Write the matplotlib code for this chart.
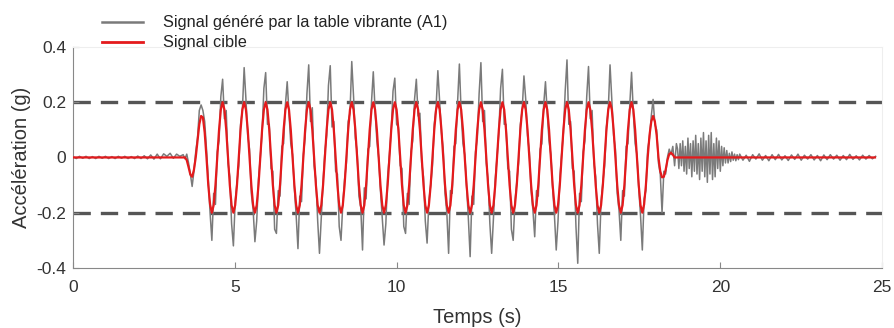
import numpy as np
import matplotlib.pyplot as plt
from matplotlib.lines import Line2D

plt.rcParams['font.family'] = ['Liberation Sans', 'DejaVu Sans']

# sampling grids (s)
osc_t0, osc_dt = 3.403, 0.05542
burst_t0, burst_dt = 18.68, 0.04
tail_t0, quiet_dt = 20.6, 0.1
t_end = 24.78

# quiet part before the test (0 - 3.3 s)
pre_gray = [0.003, -0.004, 0.004, -0.003, 0.004, -0.004, 0.003, -0.004, 0.004, -0.003,
            0.004, -0.004, 0.003, -0.004, 0.004, -0.003, 0.004, -0.004, 0.003, -0.004,
            0.005, -0.004, 0.006, -0.005, 0.009, -0.006, 0.012, -0.005, 0.013, 0.004,
            0.015, -0.003, 0.012, 0.004]

# target signal (g)
red_start = [0, 0, -0.01, -0.035, -0.062, -0.07, -0.045, 0.0, 0.06, 0.12, 0.15, 0.145,
             0.09, 0.0, -0.1, -0.17]
red_cycle = [-0.2, -0.173, -0.1, 0, 0.1, 0.173, 0.2, 0.173, 0.1, 0, -0.1, -0.173]
red_end = [-0.2, -0.17, -0.1, 0.0, 0.08, 0.13, 0.15, 0.13, 0.08, 0.0, -0.05, -0.072, -0.07,
           -0.045, -0.01, 0.012, 0.017, 0.01, 0.0, 0.0]

# shaking table signal (g), same grid as the target
gray_osc = [
    0.01, -0.005, 0.012, -0.02, -0.06, -0.105, -0.05, 0.02, 0.07, 0.17, 0.19, 0.17, 0.13, 0.03, -0.08, -0.2,
    -0.30, -0.13, -0.17, 0.02, 0.06, 0.22, 0.283, 0.14, 0.17, -0.02, -0.07, -0.24,
    -0.32, -0.16, -0.09, -0.03, 0.12, 0.17, 0.325, 0.21, 0.08, 0.03, -0.13, -0.19,
    -0.305, -0.23, -0.08, 0.00, 0.09, 0.25, 0.307, 0.12, 0.12, -0.04, -0.05, -0.26,
    -0.275, -0.12, -0.14, 0.04, 0.05, 0.19, 0.274, 0.16, 0.05, 0.01, -0.11, -0.21,
    -0.33, -0.14, -0.16, 0.01, 0.07, 0.23, 0.335, 0.13, 0.18, -0.03, -0.08, -0.23,
    -0.347, -0.22, -0.09, 0.02, 0.08, 0.26, 0.332, 0.11, 0.13, -0.05, -0.06, -0.25,
    -0.30, -0.17, -0.08, -0.02, 0.13, 0.16, 0.347, 0.22, 0.07, 0.02, -0.14, -0.18,
    -0.335, -0.11, -0.15, 0.03, 0.04, 0.2, 0.31, 0.17, 0.06, 0.0, -0.12, -0.22,
    -0.317, -0.24, -0.07, 0.01, 0.1, 0.24, 0.287, 0.12, 0.11, -0.03, -0.04, -0.25,
    -0.275, -0.13, -0.17, 0.02, 0.06, 0.21, 0.283, 0.15, 0.16, -0.02, -0.07, -0.23,
    -0.31, -0.16, -0.1, -0.03, 0.12, 0.18, 0.314, 0.2, 0.09, 0.03, -0.13, -0.2,
    -0.347, -0.12, -0.13, 0.04, 0.05, 0.2, 0.338, 0.16, 0.05, 0.01, -0.1, -0.22,
    -0.359, -0.14, -0.17, 0.02, 0.07, 0.23, 0.343, 0.13, 0.17, -0.02, -0.08, -0.24,
    -0.347, -0.22, -0.08, 0.0, 0.09, 0.25, 0.319, 0.12, 0.12, -0.04, -0.05, -0.26,
    -0.30, -0.16, -0.09, -0.02, 0.12, 0.17, 0.295, 0.21, 0.08, 0.02, -0.12, -0.19,
    -0.287, -0.12, -0.14, 0.03, 0.05, 0.19, 0.274, 0.16, 0.06, 0.01, -0.11, -0.21,
    -0.335, -0.23, -0.08, 0.01, 0.09, 0.24, 0.353, 0.12, 0.13, -0.04, -0.05, -0.25,
    -0.383, -0.13, -0.16, 0.02, 0.06, 0.22, 0.329, 0.14, 0.17, -0.02, -0.07, -0.24,
    -0.347, -0.16, -0.09, -0.03, 0.11, 0.17, 0.335, 0.21, 0.08, 0.03, -0.13, -0.19,
    -0.30, -0.12, -0.14, 0.04, 0.05, 0.19, 0.308, 0.16, 0.05, 0.01, -0.11, -0.21,
    -0.335, -0.15, -0.12, 0.03, 0.07, 0.15, 0.21, 0.12, 0.1, -0.02, -0.06, -0.2,
    -0.05, -0.06, 0.0, 0.03, 0.01, 0.04, -0.03, 0.05,
]

# free vibration after the test
burst_gray = [0.03, -0.04, 0.05, -0.03, 0.06, -0.05, 0.04, -0.06, 0.07, -0.04,
              0.05, -0.07, 0.06, -0.05, 0.08, -0.06, 0.05, -0.08, 0.07, -0.05,
              0.09, -0.07, 0.06, -0.09, 0.08, -0.06, 0.09, -0.08, 0.05, -0.07,
              0.07, -0.04, 0.06, -0.05, 0.04, -0.03, 0.035, -0.02, 0.025, -0.02,
              0.015, -0.015, 0.02, -0.01, 0.012, -0.012, 0.01, -0.008]
tail_gray = [0.012, -0.01, 0.008, -0.014, 0.01, -0.006, 0.013, -0.01, 0.007, -0.012,
             0.01, -0.008, 0.011, -0.009, 0.006, -0.011, 0.009, -0.007, 0.012, -0.01,
             0.008, -0.006, 0.01, -0.009, 0.007, -0.012, 0.009, -0.008, 0.01, -0.006,
             0.008, -0.01, 0.007, -0.008, 0.011, -0.007, 0.006, -0.009, 0.008, -0.006,
             0.007, -0.005, 0.004]

red_osc = red_start + red_cycle * 20 + red_end
t_osc = osc_t0 + osc_dt * np.arange(len(red_osc))
t_red = np.concatenate([[0], t_osc, [t_end]])
v_red = np.concatenate([[0], red_osc, [0]])

t_gray = np.concatenate([quiet_dt * np.arange(len(pre_gray)),
                         osc_t0 + osc_dt * np.arange(len(gray_osc)),
                         burst_t0 + burst_dt * np.arange(len(burst_gray)),
                         tail_t0 + quiet_dt * np.arange(len(tail_gray))])
v_gray = np.concatenate([pre_gray, gray_osc, burst_gray, tail_gray])

fig = plt.figure(figsize=(8.94, 3.28), dpi=100)
ax = fig.add_axes([0.0817, 0.183, 0.905, 0.674])

for lvl in [0.2, -0.2]:
    ax.axhline(lvl, color='#555555', lw=2.4, dashes=(5.2, 3.0), zorder=1)
ax.plot(t_gray, v_gray, color='#7a7a7a', lw=1.1, zorder=2)
ax.plot(t_red, v_red, color='#e41a1c', lw=1.6, zorder=3)

ax.set_xlim(0, 25)
ax.set_ylim(-0.4, 0.4)
ax.set_xticks([0, 5, 10, 15, 20, 25])
ax.set_yticks([-0.4, -0.2, 0, 0.2, 0.4])
ax.set_yticklabels(['-0.4', '-0.2', '0', '0.2', '0.4'])
ax.tick_params(direction='in', length=4, color='#888888', labelcolor='#333333', labelsize=12.5)
ax.tick_params(axis='x', pad=9)
ax.tick_params(axis='y', pad=5)
for s in ['left', 'bottom']:
    ax.spines[s].set_color('#888888')
for s in ['top', 'right']:
    ax.spines[s].set_color('#eeeeee')

ax.set_xlabel('Temps (s)', fontsize=14.5, color='#333333')
ax.set_ylabel('Accélération (g)', fontsize=14.5, color='#333333')
ax.xaxis.set_label_coords(0.5, -0.18)
ax.yaxis.set_label_coords(-0.052, 0.5)

handles = [Line2D([], [], color='#7a7a7a', lw=1.8), Line2D([], [], color='#e41a1c', lw=2.0)]
fig.legend(handles, ['Signal généré par la table vibrante (A1)', 'Signal cible'],
           loc='upper left', bbox_to_anchor=(0.1138, 0.953), frameon=False,
           fontsize=11.7, handlelength=2.55, handletextpad=1.2, labelspacing=0.3,
           borderpad=0, borderaxespad=0, labelcolor='#222222')

fig.savefig('out.png', dpi=100)
